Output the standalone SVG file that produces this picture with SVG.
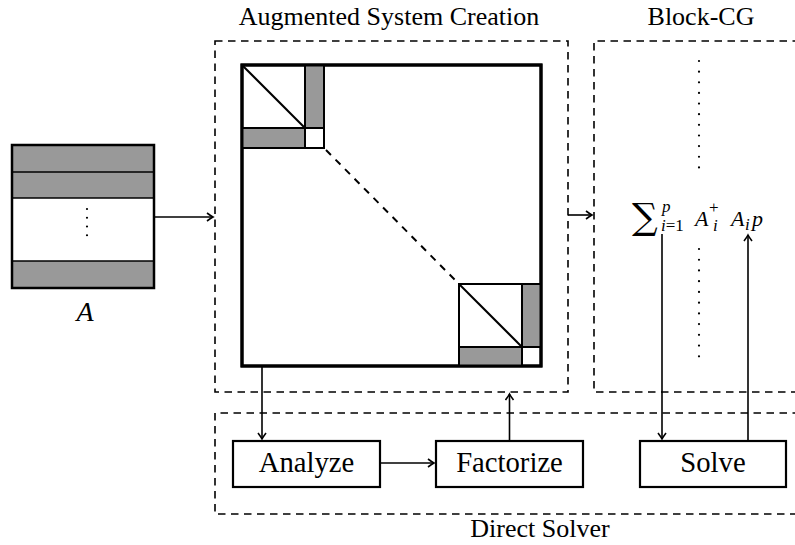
<svg xmlns="http://www.w3.org/2000/svg" width="795" height="545" viewBox="0 0 795 545">
<style>
text{font-family:'Liberation Serif',serif;fill:#000}
.title{font-size:26px;text-anchor:middle}
.box{font-size:28.7px;text-anchor:middle}
.dash{fill:none;stroke:#000;stroke-width:1.6;stroke-dasharray:7.5 5.5}
.conn{fill:none;stroke:#000;stroke-width:1.6}
.bx{fill:#fff;stroke:#000;stroke-width:2.2}
.gray{fill:#999;stroke:#000;stroke-width:2}
.thin{fill:none;stroke:#000;stroke-width:2}
.dots{fill:none;stroke:#000;stroke-width:2.2;stroke-linecap:round}
.it{font-style:italic}
.sum{font-family:'DejaVu Serif',serif}
</style>
<defs>
<marker id="ah" viewBox="-8 -5 10 10" markerWidth="10" markerHeight="10" refX="0" refY="0" orient="auto" markerUnits="userSpaceOnUse">
<path d="M-6,-4 Q-2,-1 0,0 Q-2,1 -6,4" fill="none" stroke="#000" stroke-width="1.6"/>
</marker>
</defs>
<rect width="795" height="545" fill="#fff"/>

<g id="matrixA">
<rect x="12" y="145" width="142" height="27" fill="#999"/>
<rect x="12" y="172" width="142" height="26" fill="#999"/>
<rect x="12" y="261" width="142" height="27" fill="#999"/>
<line x1="12" y1="172" x2="154" y2="172" stroke="#000" stroke-width="1.5"/>
<line x1="12" y1="198" x2="154" y2="198" stroke="#000" stroke-width="1.5"/>
<line x1="12" y1="261" x2="154" y2="261" stroke="#000" stroke-width="1.5"/>
<rect x="12" y="145" width="142" height="143" fill="none" stroke="#000" stroke-width="2.5"/>
<line x1="87" y1="209" x2="87" y2="244" class="dots" stroke-dasharray="0 8.75"/>
<text x="85" y="321" class="it" font-size="28" text-anchor="middle">A</text>
</g>

<g id="augmented">
<rect x="215" y="41" width="353" height="351" class="dash"/>
<text x="389" y="25" class="title">Augmented System Creation</text>
<rect x="242" y="65" width="299" height="301" fill="#fff" stroke="#000" stroke-width="3"/>
<rect x="305" y="65" width="19" height="63" class="gray"/>
<rect x="242" y="128" width="63" height="20" class="gray"/>
<rect x="305" y="128" width="19" height="20" class="thin" fill="#fff"/>
<rect x="242" y="65" width="63" height="63" class="thin"/>
<line x1="242" y1="65" x2="305" y2="128" class="thin"/>
<line x1="326" y1="150" x2="456" y2="281" stroke="#000" stroke-width="2" stroke-dasharray="7 6.5"/>
<rect x="522" y="284" width="19" height="63" class="gray"/>
<rect x="459" y="347" width="63" height="19" class="gray"/>
<rect x="522" y="347" width="19" height="19" class="thin" fill="#fff"/>
<rect x="459" y="284" width="63" height="63" class="thin"/>
<line x1="459" y1="284" x2="522" y2="347" class="thin"/>
<rect x="242" y="65" width="299" height="301" fill="none" stroke="#000" stroke-width="3"/>
</g>

<g id="blockcg">
<path d="M800,41 H594 V392 H800" class="dash"/>
<text x="701" y="25" class="title">Block-CG</text>
<line x1="699" y1="61" x2="699" y2="178" class="dots" stroke-dasharray="0 10.64"/>
<line x1="699" y1="249" x2="699" y2="367" class="dots" stroke-dasharray="0 10.73"/>
<text x="632" y="229" class="sum" font-size="36">∑</text>
<text font-size="17" class="it" x="662" y="212">p</text>
<text font-size="17" x="661" y="231"><tspan class="it">i</tspan>=1</text>
<text font-size="22" class="it" x="695" y="226">A</text>
<text font-size="17" x="709" y="213">+</text>
<text font-size="17" class="it" x="713" y="231">i</text>
<text font-size="22" class="it" x="731" y="226">A</text>
<text font-size="17" class="it" x="745" y="230">i</text>
<text font-size="22" class="it" x="752" y="226">p</text>
</g>

<g id="directsolver">
<path d="M800,413 H215 V514 H800" class="dash"/>
<text x="540" y="537" class="title">Direct Solver</text>
</g>

<g id="analyze">
<rect x="233" y="441" width="147" height="46" class="bx"/>
<text x="306.5" y="472" class="box">Analyze</text>
</g>
<g id="factorize">
<rect x="436" y="441" width="147" height="46" class="bx"/>
<text x="509.5" y="472" class="box">Factorize</text>
</g>
<g id="solve">
<rect x="640" y="441" width="146" height="46" class="bx"/>
<text x="713" y="472" class="box">Solve</text>
</g>

<g id="connectors">
<line x1="154" y1="217" x2="213" y2="217" class="conn" marker-end="url(#ah)"/>
<line x1="568" y1="215" x2="592" y2="215" class="conn" marker-end="url(#ah)"/>
<line x1="262" y1="366" x2="262" y2="439" class="conn" marker-end="url(#ah)"/>
<line x1="380" y1="463" x2="434" y2="463" class="conn" marker-end="url(#ah)"/>
<line x1="509.5" y1="441" x2="509.5" y2="394" class="conn" marker-end="url(#ah)"/>
<line x1="662" y1="234" x2="662" y2="439" class="conn" marker-end="url(#ah)"/>
<line x1="748" y1="441" x2="748" y2="235" class="conn" marker-end="url(#ah)"/>
</g>
</svg>
